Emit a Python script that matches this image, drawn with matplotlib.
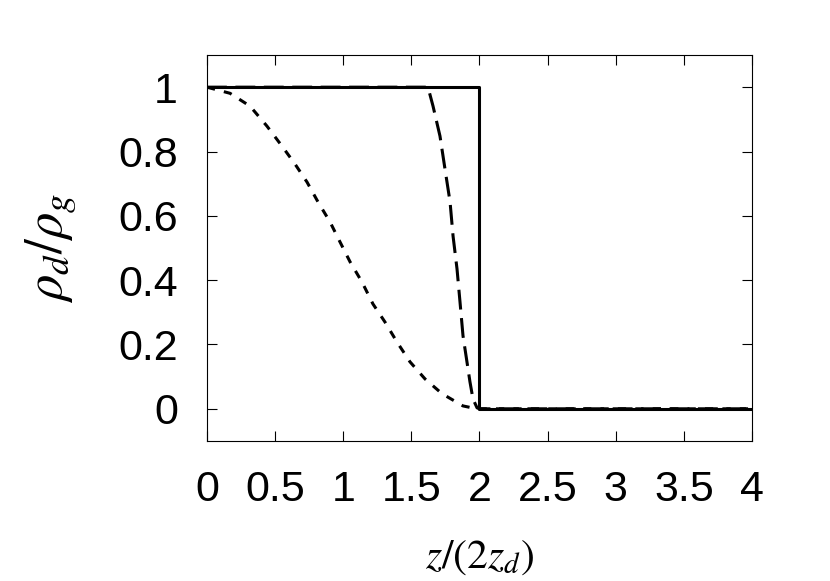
import matplotlib
matplotlib.use("Agg")
import matplotlib.pyplot as plt

plt.rcParams['font.family'] = ['Liberation Sans', 'DejaVu Sans']
plt.rcParams['mathtext.fontset'] = 'stix'

# step profile
step_x = [0, 2, 2, 4]
step_y = [1, 1, 0, 0]

# long dashed profile
long_x = [0, 1.622, 1.659, 1.710, 1.747, 1.784, 1.806, 1.835, 1.857, 1.879,
          1.908, 1.930, 1.952, 1.982, 2.0, 4.0]
long_y = [1, 1.0, 0.941, 0.848, 0.745, 0.643, 0.537, 0.435, 0.332, 0.227,
          0.146, 0.084, 0.031, 0.003, 0.0, 0.0]

# short dashed profile
short_x = [0, 0.169, 0.316, 0.440, 0.550, 0.646, 0.734, 0.815, 0.903, 0.976,
           1.050, 1.138, 1.218, 1.306, 1.394, 1.490, 1.600, 1.725, 1.879,
           1.98, 4.0]
short_y = [1, 0.981, 0.941, 0.879, 0.817, 0.761, 0.705, 0.643, 0.581, 0.519,
           0.457, 0.394, 0.326, 0.270, 0.208, 0.146, 0.093, 0.047, 0.009,
           0.0, 0.0]

xticks = [0, 0.5, 1, 1.5, 2, 2.5, 3, 3.5, 4]
xticklabels = ['0', '0.5', '1', '1.5', '2', '2.5', '3', '3.5', '4']
yticks = [0, 0.2, 0.4, 0.6, 0.8, 1]
yticklabels = ['0', '0.2', '0.4', '0.6', '0.8', '1']

fig = plt.figure(figsize=(8.3, 5.81), dpi=100)
ax = fig.add_axes([0.2494, 0.2410, 0.6566, 0.6643])

lw = 2.2
ax.plot(short_x, short_y, color='black', lw=lw, dashes=(2.7, 3.0))
ax.plot(long_x, long_y, color='black', lw=lw, dashes=(6.5, 2.8))
ax.plot(step_x, step_y, color='black', lw=lw)

ax.set_xlim(0, 4)
ax.set_ylim(-0.1, 1.1)
ax.set_xticks(xticks)
ax.set_xticklabels(xticklabels)
ax.set_yticks(yticks)
ax.set_yticklabels(yticklabels)
ax.tick_params(direction='in', length=7.5, width=0.8, top=True, right=True,
               labelsize=31, pad=21)
for s in ax.spines.values():
    s.set_linewidth(0.8)

ax.set_xlabel(r'$z/(2z_d)$', fontsize=30)
ax.set_ylabel(r'$\rho_d/\rho_g$', fontsize=38)
ax.xaxis.set_label_coords(0.5, -0.25)
ax.yaxis.set_label_coords(-0.237, 0.5)

plt.savefig('out.png', dpi=100)
